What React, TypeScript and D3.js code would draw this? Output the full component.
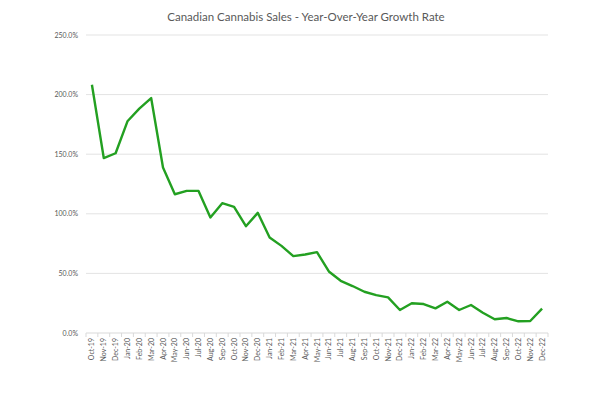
import { useEffect, useRef } from 'react';
import * as d3 from 'd3';

const months = [
  'Oct-19', 'Nov-19', 'Dec-19', 'Jan-20', 'Feb-20', 'Mar-20', 'Apr-20', 'May-20', 'Jun-20', 'Jul-20',
  'Aug-20', 'Sep-20', 'Oct-20', 'Nov-20', 'Dec-20', 'Jan-21', 'Feb-21', 'Mar-21', 'Apr-21', 'May-21',
  'Jun-21', 'Jul-21', 'Aug-21', 'Sep-21', 'Oct-21', 'Nov-21', 'Dec-21', 'Jan-22', 'Feb-22', 'Mar-22',
  'Apr-22', 'May-22', 'Jun-22', 'Jul-22', 'Aug-22', 'Sep-22', 'Oct-22', 'Nov-22', 'Dec-22',
];

// year-over-year growth, percent
const growth = [
  208.3, 146.8, 150.8, 177.6, 188.2, 197.1, 138.8, 116.4, 119.2, 119.2,
  96.9, 108.9, 105.8, 89.6, 100.8, 80.2, 73.1, 64.5, 65.9, 67.8,
  51.6, 43.8, 39.4, 34.6, 31.8, 29.9, 19.3, 24.9, 24.3, 20.7,
  26.2, 19.3, 23.5, 17.0, 11.5, 12.6, 9.8, 10.1, 20.4,
];

const yTicks = [0, 50, 100, 150, 200, 250];

const W = 600;
const H = 398;
const FONT = 'Lato, "Open Sans", sans-serif';

export default function App() {
  const ref = useRef<SVGSVGElement>(null);

  useEffect(() => {
    const svg = d3.select(ref.current);
    svg.selectAll('*').remove();

    const left = 86, right = 548, top = 35, bottom = 333;

    const x = d3.scalePoint<string>().domain(months).range([left, right]).padding(0.5);
    const y = d3.scaleLinear().domain([0, 250]).range([bottom, top]);
    const step = x.step();

    svg.append('rect').attr('width', W).attr('height', H).attr('fill', '#fff');

    svg.append('text')
      .attr('x', 306).attr('y', 21)
      .attr('text-anchor', 'middle')
      .attr('font-family', FONT).attr('font-size', 11.5)
      .attr('fill', '#595959')
      .text('Canadian Cannabis Sales - Year-Over-Year Growth Rate');

    // gridlines
    svg.append('g').selectAll('line')
      .data(yTicks.filter(t => t > 0))
      .join('line')
      .attr('x1', left).attr('x2', right)
      .attr('y1', d => y(d)).attr('y2', d => y(d))
      .attr('stroke', '#e3e3e3').attr('stroke-width', 1);

    // y labels
    svg.append('g').selectAll('text')
      .data(yTicks)
      .join('text')
      .attr('x', left - 8).attr('y', d => y(d) + 2.5)
      .attr('text-anchor', 'end')
      .attr('font-family', FONT).attr('font-size', 7)
      .attr('fill', '#595959')
      .text(d => d.toFixed(1) + '%');

    // x axis line + ticks
    svg.append('line')
      .attr('x1', left).attr('x2', right)
      .attr('y1', bottom).attr('y2', bottom)
      .attr('stroke', '#d9d9d9');

    svg.append('g').selectAll('line')
      .data(d3.range(months.length + 1))
      .join('line')
      .attr('x1', i => left + i * step).attr('x2', i => left + i * step)
      .attr('y1', bottom).attr('y2', bottom + 4)
      .attr('stroke', '#d9d9d9');

    svg.append('g').selectAll('text')
      .data(months)
      .join('text')
      .attr('transform', d => `translate(${(x(d) as number) + 2.5},${bottom + 5}) rotate(-90)`)
      .attr('text-anchor', 'end')
      .attr('font-family', FONT).attr('font-size', 7)
      .attr('fill', '#595959')
      .text(d => d);

    const line = d3.line<number>()
      .x((_, i) => x(months[i]) as number)
      .y(d => y(d));

    svg.append('path')
      .datum(growth)
      .attr('fill', 'none')
      .attr('stroke', '#23a021')
      .attr('stroke-width', 2.4)
      .attr('stroke-linejoin', 'round')
      .attr('d', line);
  }, []);

  return (
    <div style={{ position: 'absolute', left: 0, top: 0 }}>
      <svg ref={ref} width={W} height={H} />
    </div>
  );
}
